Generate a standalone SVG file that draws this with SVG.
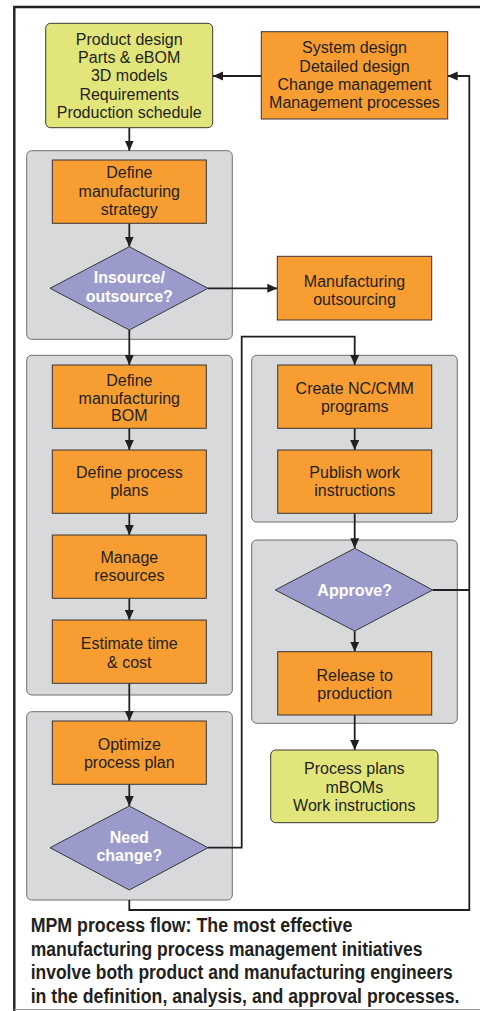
<svg xmlns="http://www.w3.org/2000/svg" width="480" height="1011" viewBox="0 0 480 1011">
<defs>
<marker id="ah" markerUnits="userSpaceOnUse" markerWidth="10" markerHeight="10" refX="10" refY="5" orient="auto">
<path d="M0,0.5 L10,5 L0,9.5 z" fill="#231f20"/>
</marker>
<style>
.lbl{font-family:"Liberation Sans",Arial,sans-serif;font-size:16px;fill:#231f20;text-anchor:middle}
.dlbl{font-family:"Liberation Sans",Arial,sans-serif;font-size:16px;font-weight:bold;fill:#ffffff;text-anchor:middle}
.cap{font-family:"Liberation Sans",Arial,sans-serif;font-size:19.5px;font-weight:bold;fill:#231f20}
.or{fill:#f79d32;stroke:#3a3536;stroke-width:1}
.ye{fill:#e2e57a;stroke:#3a3536;stroke-width:1}
.gr{fill:#d8d9db;stroke:#6d6e71;stroke-width:1}
.di{fill:#9b9bcb;stroke:#3a3536;stroke-width:1}
.cn{fill:none;stroke:#231f20;stroke-width:1.8}
</style>
</defs>
<rect width="480" height="1011" fill="#ffffff"/>
<g id="frame">
<path d="M14.3,1011 V7 H480" fill="none" stroke="#231f20" stroke-width="2.4"/>
<line x1="14" y1="1009.5" x2="480" y2="1009.5" stroke="#9a9a9a" stroke-width="1"/>
</g>
<g id="containers">
<rect id="c1" class="gr" x="26.7" y="150.7" width="205.6" height="188.6" rx="5"/>
<rect id="c2" class="gr" x="26.7" y="355.3" width="205.6" height="339.7" rx="5"/>
<rect id="c3" class="gr" x="26.7" y="711.7" width="205.6" height="188.3" rx="5"/>
<rect id="c4" class="gr" x="251.7" y="355.3" width="205.6" height="166.7" rx="5"/>
<rect id="c5" class="gr" x="251.7" y="540" width="205.6" height="183.3" rx="5"/>
</g>
<g id="connectors">
<line class="cn" x1="261.3" y1="76" x2="213" y2="76" marker-end="url(#ah)"/>
<line class="cn" x1="129.3" y1="128" x2="129.3" y2="150.7" marker-end="url(#ah)"/>
<line class="cn" x1="129.3" y1="223.3" x2="129.3" y2="246.7" marker-end="url(#ah)"/>
<line class="cn" x1="208" y1="288.3" x2="277.3" y2="288.3" marker-end="url(#ah)"/>
<line class="cn" x1="129.3" y1="330" x2="129.3" y2="365" marker-end="url(#ah)"/>
<line class="cn" x1="129.3" y1="428.3" x2="129.3" y2="450" marker-end="url(#ah)"/>
<line class="cn" x1="129.3" y1="513.3" x2="129.3" y2="535" marker-end="url(#ah)"/>
<line class="cn" x1="129.3" y1="598.3" x2="129.3" y2="620" marker-end="url(#ah)"/>
<line class="cn" x1="129.3" y1="683.3" x2="129.3" y2="721" marker-end="url(#ah)"/>
<line class="cn" x1="129.3" y1="784.3" x2="129.3" y2="806" marker-end="url(#ah)"/>
<path class="cn" d="M208,847.7 H241.7 V336.7 H354.7 V365" marker-end="url(#ah)"/>
<line class="cn" x1="354.7" y1="428.3" x2="354.7" y2="450" marker-end="url(#ah)"/>
<line class="cn" x1="354.7" y1="513.3" x2="354.7" y2="548.3" marker-end="url(#ah)"/>
<line class="cn" x1="354.7" y1="631" x2="354.7" y2="651.7" marker-end="url(#ah)"/>
<line class="cn" x1="354.7" y1="715" x2="354.7" y2="750" marker-end="url(#ah)"/>
<line class="cn" x1="432.7" y1="590" x2="469.3" y2="590"/>
<path class="cn" d="M129.3,900 V910 H469.3 V76 H447.7" marker-end="url(#ah)"/>
</g>
<g id="n-product">
<rect class="ye" x="45.7" y="23.3" width="167" height="104.4" rx="5"/>
<text class="lbl" x="129.2" y="44.5">Product design</text>
<text class="lbl" x="129.2" y="62.9">Parts &amp; eBOM</text>
<text class="lbl" x="129.2" y="81.3">3D models</text>
<text class="lbl" x="129.2" y="99.7">Requirements</text>
<text class="lbl" x="129.2" y="118.1">Production schedule</text>
</g>
<g id="n-system">
<rect class="or" x="261.3" y="31.7" width="186.4" height="87.3"/>
<text class="lbl" x="354.5" y="53.3">System design</text>
<text class="lbl" x="354.5" y="71.6">Detailed design</text>
<text class="lbl" x="354.5" y="90">Change management</text>
<text class="lbl" x="354.5" y="108.3">Management processes</text>
</g>
<g id="n-strategy">
<rect class="or" x="52.3" y="160" width="154" height="63.3"/>
<text class="lbl" x="129.3" y="178.3">Define</text>
<text class="lbl" x="129.3" y="196.6">manufacturing</text>
<text class="lbl" x="129.3" y="214.9">strategy</text>
</g>
<g id="n-insource">
<polygon class="di" points="129.3,246.7 208,288.3 129.3,330 50,288.3"/>
<text class="dlbl" x="129.3" y="283.3">Insource/</text>
<text class="dlbl" x="129.3" y="301.7">outsource?</text>
</g>
<g id="n-outsourcing">
<rect class="or" x="277.3" y="256.3" width="154.4" height="63.7"/>
<text class="lbl" x="354.5" y="286.7">Manufacturing</text>
<text class="lbl" x="354.5" y="305">outsourcing</text>
</g>
<g id="n-bom">
<rect class="or" x="52.3" y="365" width="154" height="63.3"/>
<text class="lbl" x="129.3" y="385.7">Define</text>
<text class="lbl" x="129.3" y="403.5">manufacturing</text>
<text class="lbl" x="129.3" y="421.3">BOM</text>
</g>
<g id="n-plans">
<rect class="or" x="52.3" y="450" width="154" height="63.3"/>
<text class="lbl" x="129.3" y="478.3">Define process</text>
<text class="lbl" x="129.3" y="496.3">plans</text>
</g>
<g id="n-resources">
<rect class="or" x="52.3" y="535" width="154" height="63.3"/>
<text class="lbl" x="129.3" y="562.7">Manage</text>
<text class="lbl" x="129.3" y="580.5">resources</text>
</g>
<g id="n-estimate">
<rect class="or" x="52.3" y="620" width="154" height="63.3"/>
<text class="lbl" x="129.3" y="649.3">Estimate time</text>
<text class="lbl" x="129.3" y="668">&amp; cost</text>
</g>
<g id="n-optimize">
<rect class="or" x="52.3" y="721" width="154" height="63.3"/>
<text class="lbl" x="129.3" y="750">Optimize</text>
<text class="lbl" x="129.3" y="768">process plan</text>
</g>
<g id="n-needchange">
<polygon class="di" points="129.3,806 208,847.7 129.3,890 50,847.7"/>
<text class="dlbl" x="129.3" y="842.7">Need</text>
<text class="dlbl" x="129.3" y="860.7">change?</text>
</g>
<g id="n-nc">
<rect class="or" x="277.7" y="365" width="154" height="63.3"/>
<text class="lbl" x="354.7" y="394">Create NC/CMM</text>
<text class="lbl" x="354.7" y="412">programs</text>
</g>
<g id="n-publish">
<rect class="or" x="277.7" y="450" width="154" height="63.3"/>
<text class="lbl" x="354.7" y="477.5">Publish work</text>
<text class="lbl" x="354.7" y="495.5">instructions</text>
</g>
<g id="n-approve">
<polygon class="di" points="354.7,548.3 432.7,590 354.7,631 275.3,590"/>
<text class="dlbl" x="354.7" y="596">Approve?</text>
</g>
<g id="n-release">
<rect class="or" x="277.7" y="651.7" width="154" height="63.3"/>
<text class="lbl" x="354.7" y="680.5">Release to</text>
<text class="lbl" x="354.7" y="698.5">production</text>
</g>
<g id="n-outputs">
<rect class="ye" x="270.7" y="750" width="167.3" height="72.7" rx="5"/>
<text class="lbl" x="354.3" y="774">Process plans</text>
<text class="lbl" x="354.3" y="792.5">mBOMs</text>
<text class="lbl" x="354.3" y="810.8">Work instructions</text>
</g>
<g id="caption" transform="translate(30.7,0) scale(0.75,1)">
<text class="cap" x="0" y="931.7" textLength="428.9" lengthAdjust="spacingAndGlyphs">MPM process flow: The most effective</text>
<text class="cap" x="0" y="955.7" textLength="522.3" lengthAdjust="spacingAndGlyphs">manufacturing process management initiatives</text>
<text class="cap" x="0" y="979.3" textLength="562.7" lengthAdjust="spacingAndGlyphs">involve both product and manufacturing engineers</text>
<text class="cap" x="0" y="1002.7" textLength="571.6" lengthAdjust="spacingAndGlyphs">in the definition, analysis, and approval processes.</text>
</g>
</svg>
